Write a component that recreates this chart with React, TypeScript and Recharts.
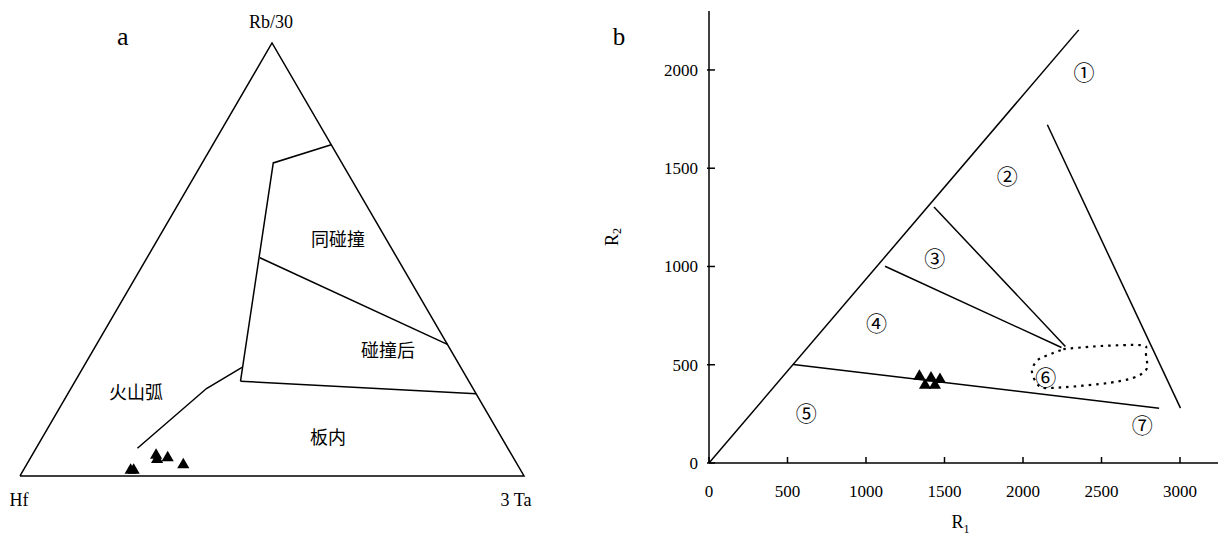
import React from 'react';
import { ScatterChart, Scatter, XAxis, YAxis, ZAxis } from 'recharts';

const SERIF = '"Liberation Serif", "Times New Roman", serif';
const CJK = '"Noto Sans CJK SC", "Noto Sans CJK JP", sans-serif';

// ---------- Panel a : Hf - Rb/30 - 3Ta ternary, compositions [Hf, Rb/30, 3Ta] in % ----------
const triangleFrame = [[100, 0, 0], [0, 100, 0], [0, 0, 100], [100, 0, 0]];
const boundaryUpper = [[0, 76.5, 23.5], [13.6, 72.3, 14.1], [45.3, 21.9, 32.8]];
const boundaryMiddle = [[27.2, 50.4, 22.4], [0, 30.4, 69.6]];
const boundaryLower = [[45.3, 21.9, 32.8], [0, 19, 81]];
const boundaryArc = [[43.4, 25.1, 31.5], [52.9, 20.2, 26.9], [73.5, 6.4, 20.1]];
const samplesA = [
  [77.4, 1.3, 21.3],
  [76.8, 1.3, 21.9],
  [70.6, 4.8, 24.6],
  [70.9, 3.8, 25.3],
  [68.6, 4.2, 27.2],
  [66.3, 2.6, 31.1],
];
// labels placed in the diagram's cartesian frame (x: Hf->3Ta, y: base->apex)
const fieldLabelsA = [
  { label: '同碰撞', x: 0.631, y: 0.55 },
  { label: '碰撞后', x: 0.73, y: 0.293 },
  { label: '火山弧', x: 0.23, y: 0.196 },
  { label: '板内', x: 0.611, y: 0.092 },
];
const cornerLabelsA = [
  { label: 'Rb/30', x: 0.498, y: 1.048 },
  { label: 'Hf', x: -0.002, y: -0.055 },
  { label: '3 Ta', x: 0.984, y: -0.055 },
];
const panelTitleA = [{ label: 'a', x: 0.204, y: 1.014 }];

const tern = (p: number[]) => ({ x: p[2] / 100 + p[1] / 200, y: p[1] / 100 });

// ---------- Panel b : R1 - R2 ----------
const r1Ticks = [0, 500, 1000, 1500, 2000, 2500, 3000];
const r2Ticks = [0, 500, 1000, 1500, 2000];
const lineMantle = [{ x: 0, y: 0 }, { x: 2355, y: 2204 }];
const lineRight = [{ x: 2155, y: 1721 }, { x: 3003, y: 279 }];
const lineField3 = [{ x: 1433, y: 1303 }, { x: 2270, y: 593 }];
const lineField4 = [{ x: 1121, y: 1001 }, { x: 2245, y: 588 }];
const lineField5 = [{ x: 537, y: 501 }, { x: 2867, y: 279 }];
const field6Outline = [
  { x: 2257, y: 579 }, { x: 2490, y: 595 }, { x: 2745, y: 600 }, { x: 2783, y: 575 },
  { x: 2790, y: 514 }, { x: 2783, y: 473 }, { x: 2701, y: 433 }, { x: 2490, y: 402 },
  { x: 2191, y: 382 }, { x: 2096, y: 397 }, { x: 2057, y: 463 }, { x: 2083, y: 514 },
  { x: 2127, y: 539 }, { x: 2257, y: 579 },
];
const samplesB = [
  { x: 1340, y: 441 },
  { x: 1414, y: 433 },
  { x: 1471, y: 425 },
  { x: 1376, y: 396 },
  { x: 1439, y: 396 },
];
const fieldLabelsB = [
  { label: '①', x: 2388, y: 1997 },
  { label: '②', x: 1899, y: 1468 },
  { label: '③', x: 1438, y: 1046 },
  { label: '④', x: 1067, y: 715 },
  { label: '⑤', x: 619, y: 260 },
  { label: '⑥', x: 2145, y: 445 },
  { label: '⑦', x: 2759, y: 200 },
];

const LINE = { stroke: '#000', strokeWidth: 1.5 };
const noShape = () => <g />;

const makeText = (fontSize: number, fontFamily: string) => (props: any) => (
  <text
    x={props.cx}
    y={props.cy}
    textAnchor="middle"
    dominantBaseline="central"
    fontSize={fontSize}
    fontFamily={fontFamily}
    fill="#000"
  >
    {props.payload.label}
  </text>
);
const cjkText = makeText(18, CJK);
const serifText = makeText(18, SERIF);
const titleText = makeText(26, SERIF);
const circledText = makeText(21, CJK);

const XTick = (props: any) => {
  const { x, y, payload } = props;
  return (
    <g>
      <line x1={x} x2={x} y1={y} y2={y - 6} stroke="#000" strokeWidth={1.5} />
      <text x={x} y={y + 34} textAnchor="middle" fontSize={17} fontFamily={SERIF} fill="#000">
        {payload.value}
      </text>
    </g>
  );
};

const YTick = (props: any) => {
  const { x, y, payload } = props;
  return (
    <g>
      <line x1={x - 2} x2={x + 6} y1={y} y2={y} stroke="#000" strokeWidth={1.5} />
      <text x={x - 11} y={y + 6} textAnchor="end" fontSize={17} fontFamily={SERIF} fill="#000">
        {payload.value}
      </text>
    </g>
  );
};

const R1Label = (props: any) => {
  const vb = props.viewBox || { x: 109, y: 463, width: 509, height: 74 };
  const cx = vb.x + vb.width / 2 - 3;
  return (
    <text x={cx} y={vb.y + 65} textAnchor="middle" fontSize={18} fontFamily={SERIF} fill="#000">
      <tspan>R</tspan>
      <tspan dy={5} fontSize={12}>1</tspan>
    </text>
  );
};

const R2Label = (props: any) => {
  const vb = props.viewBox || { x: 0, y: 11, width: 109, height: 452 };
  const cy = vb.y + vb.height / 2;
  const cx = vb.x + 12;
  return (
    <text
      x={cx}
      y={cy}
      transform={`rotate(-90, ${cx}, ${cy})`}
      textAnchor="middle"
      dominantBaseline="central"
      fontSize={18}
      fontFamily={SERIF}
      fill="#000"
    >
      <tspan>R</tspan>
      <tspan dy={5} fontSize={12}>2</tspan>
    </text>
  );
};

export default function App() {
  return (
    <div style={{ position: 'absolute', left: 0, top: 0, width: 1228, height: 537, background: '#fff' }}>
      <div style={{ position: 'absolute', left: 0, top: 0 }}>
        <ScatterChart width={560} height={537} margin={{ top: 0, right: 0, bottom: 0, left: 0 }}>
          <XAxis type="number" dataKey="x" domain={[-0.0397, 1.0714]} hide />
          <YAxis type="number" dataKey="y" domain={[-0.1409, 1.0993]} hide />
          <ZAxis range={[100, 100]} />
          <Scatter data={triangleFrame.map(tern)} line={LINE} shape={noShape} isAnimationActive={false} />
          <Scatter data={boundaryUpper.map(tern)} line={LINE} shape={noShape} isAnimationActive={false} />
          <Scatter data={boundaryMiddle.map(tern)} line={LINE} shape={noShape} isAnimationActive={false} />
          <Scatter data={boundaryLower.map(tern)} line={LINE} shape={noShape} isAnimationActive={false} />
          <Scatter data={boundaryArc.map(tern)} line={LINE} shape={noShape} isAnimationActive={false} />
          <Scatter data={samplesA.map(tern)} shape="triangle" fill="#000" isAnimationActive={false} />
          <Scatter data={fieldLabelsA} shape={cjkText} isAnimationActive={false} />
          <Scatter data={cornerLabelsA} shape={serifText} isAnimationActive={false} />
          <Scatter data={panelTitleA} shape={titleText} isAnimationActive={false} />
        </ScatterChart>
      </div>
      <div style={{ position: 'absolute', left: 600, top: 0 }}>
        <ScatterChart width={628} height={537} margin={{ top: 11, right: 10, bottom: 0, left: 0 }}>
          <XAxis
            type="number"
            dataKey="x"
            domain={[0, 3242]}
            ticks={r1Ticks}
            interval={0}
            tickSize={0}
            tickMargin={0}
            tickLine={false}
            tick={<XTick />}
            axisLine={{ stroke: '#000', strokeWidth: 1.5 }}
            height={74}
            label={R1Label}
          />
          <YAxis
            type="number"
            dataKey="y"
            domain={[0, 2300]}
            ticks={r2Ticks}
            interval={0}
            tickSize={0}
            tickMargin={0}
            tickLine={false}
            tick={<YTick />}
            axisLine={{ stroke: '#000', strokeWidth: 1.5 }}
            width={109}
            label={R2Label}
          />
          <ZAxis range={[100, 100]} />
          <Scatter data={lineMantle} line={LINE} shape={noShape} isAnimationActive={false} />
          <Scatter data={lineRight} line={LINE} shape={noShape} isAnimationActive={false} />
          <Scatter data={lineField3} line={LINE} shape={noShape} isAnimationActive={false} />
          <Scatter data={lineField4} line={LINE} shape={noShape} isAnimationActive={false} />
          <Scatter data={lineField5} line={LINE} shape={noShape} isAnimationActive={false} />
          <Scatter
            data={field6Outline}
            line={{ stroke: '#000', strokeWidth: 2.2, strokeDasharray: '2.5 5' }}
            lineJointType="natural"
            shape={noShape}
            isAnimationActive={false}
          />
          <Scatter data={samplesB} shape="triangle" fill="#000" isAnimationActive={false} />
          <Scatter data={fieldLabelsB} shape={circledText} isAnimationActive={false} />
        </ScatterChart>
      </div>
      <svg style={{ position: 'absolute', left: 600, top: 0 }} width={40} height={60}>
        <text x={19} y={45} textAnchor="middle" fontSize={25} fontFamily={SERIF} fill="#000">
          b
        </text>
      </svg>
    </div>
  );
}
